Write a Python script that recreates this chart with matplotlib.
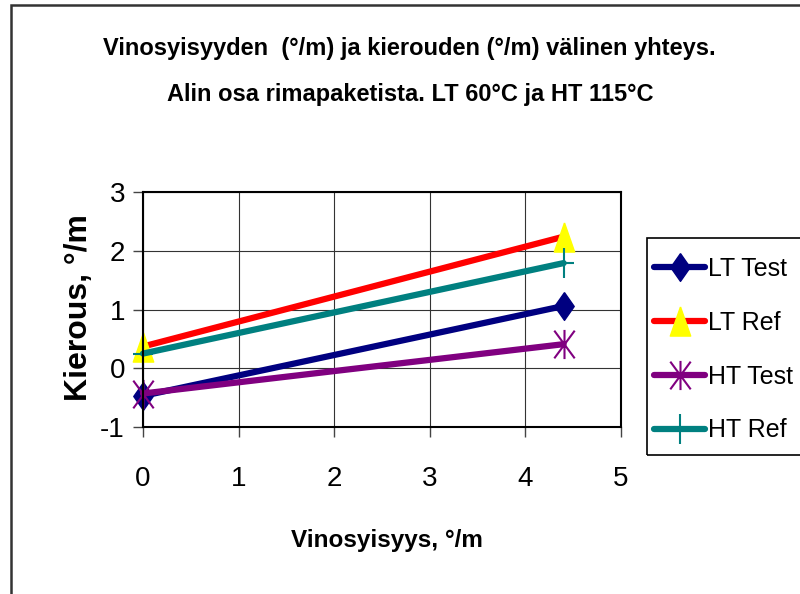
import numpy as np
import matplotlib.pyplot as plt
from matplotlib.path import Path
from matplotlib import font_manager

# vinosyisyys (deg/m) and kierous (deg/m) for each series
X = [0.0, 4.4]
LT_TEST = [-0.47, 1.06]
LT_REF = [0.37, 2.24]
HT_TEST = [-0.43, 0.41]
HT_REF = [0.25, 1.79]
LABELS = ['LT Test', 'LT Ref', 'HT Test', 'HT Ref']
COLORS = ['#000080', '#FF0000', '#800080', '#008080']
XTICKS = [0, 1, 2, 3, 4, 5]
YTICKS = [-1, 0, 1, 2, 3]

installed = {f.name for f in font_manager.fontManager.ttflist}
NARROW = 'Liberation Sans Narrow' if 'Liberation Sans Narrow' in installed else 'Liberation Sans'
plt.rcParams['font.family'] = ['Liberation Sans', 'DejaVu Sans']
plt.rcParams['axes.unicode_minus'] = False

# excel-like markers (taller than wide)
M = Path.MOVETO
L = Path.LINETO
diamond = Path([(0, 1), (0.7, 0), (0, -1), (-0.7, 0), (0, 1)])
triangle = Path([(0, 1), (0.7, -1), (-0.7, -1), (0, 1)])
star = Path([(0, 1), (0, -1), (-0.7, 0.95), (0.7, -0.95), (-0.7, -0.95), (0.7, 0.95)],
            [M, L, M, L, M, L])
plus = Path([(0, 1), (0, -1), (-0.7, 0), (0.7, 0)], [M, L, M, L])

fig = plt.figure(figsize=(8, 5.94), dpi=100)
ax = fig.add_axes([143 / 800, 1 - 427 / 594, (621 - 143) / 800, (427 - 192) / 594])

series = [LT_TEST, LT_REF, HT_TEST, HT_REF]
markers = [diamond, triangle, star, plus]
for ys, lab, col, mk in zip(series, LABELS, COLORS, markers):
    kw = dict(color=col, lw=4.5, solid_capstyle='round', marker=mk, label=lab, clip_on=False)
    if mk is triangle:
        kw.update(ms=21, mfc='#FFFF00', mec='#FFFF00')
    elif mk is diamond:
        kw.update(ms=20, mfc=col, mec=col)
    else:
        kw.update(ms=21, mfc='none', mec=col, mew=1.5)
    ax.plot(X, ys, **kw)

ax.set_xlim(0, 5)
ax.set_ylim(-1, 3)
ax.set_xticks(XTICKS)
ax.set_yticks(YTICKS)
ax.tick_params(labelsize=20, length=7, width=1, color='#444444', pad=6)
ax.tick_params(axis='x', pad=21)
ax.grid(True, color='#333333', lw=0.8)
ax.set_axisbelow(True)
for s in ax.spines.values():
    s.set_color('black')
    s.set_linewidth(1.5)

fig.text(79 / 800, 1 - 308 / 594, 'Kierous, °/m', fontsize=23, fontweight='bold',
         rotation=90, ha='center', va='center')
fig.text(387 / 800, 1 - 540 / 594, 'Vinosyisyys, °/m', family=NARROW,
         fontsize=17.5, fontweight='bold', ha='center', va='center')
fig.text(409 / 800, 1 - 48 / 594, 'Vinosyisyyden  (°/m) ja kierouden (°/m) välinen yhteys.',
         family=NARROW, fontsize=17, fontweight='bold', ha='center', va='center')
fig.text(410 / 800, 1 - 95 / 594, 'Alin osa rimapaketista. LT 60°C ja HT 115°C',
         family=NARROW, fontsize=17, fontweight='bold', ha='center', va='center')

# legend entries without frame, box drawn separately
leg = fig.legend(loc='upper left', bbox_to_anchor=(654 / 800, 1 - 257 / 594),
                 fontsize=18, frameon=False, borderaxespad=0, borderpad=0,
                 handlelength=2.05, handletextpad=0.1, labelspacing=1.19)
fig.add_artist(plt.Rectangle((647 / 800, 1 - 455 / 594), 0.3, (455 - 238) / 594,
                             transform=fig.transFigure, fill=False,
                             ec='black', lw=1.2))

# outer chart border
fig.add_artist(plt.Rectangle((11 / 800, -0.1), 1.0, 1.1 - 5 / 594,
                             transform=fig.transFigure, fill=False,
                             ec='#333333', lw=1.8))

fig.savefig('out.png', dpi=100)
